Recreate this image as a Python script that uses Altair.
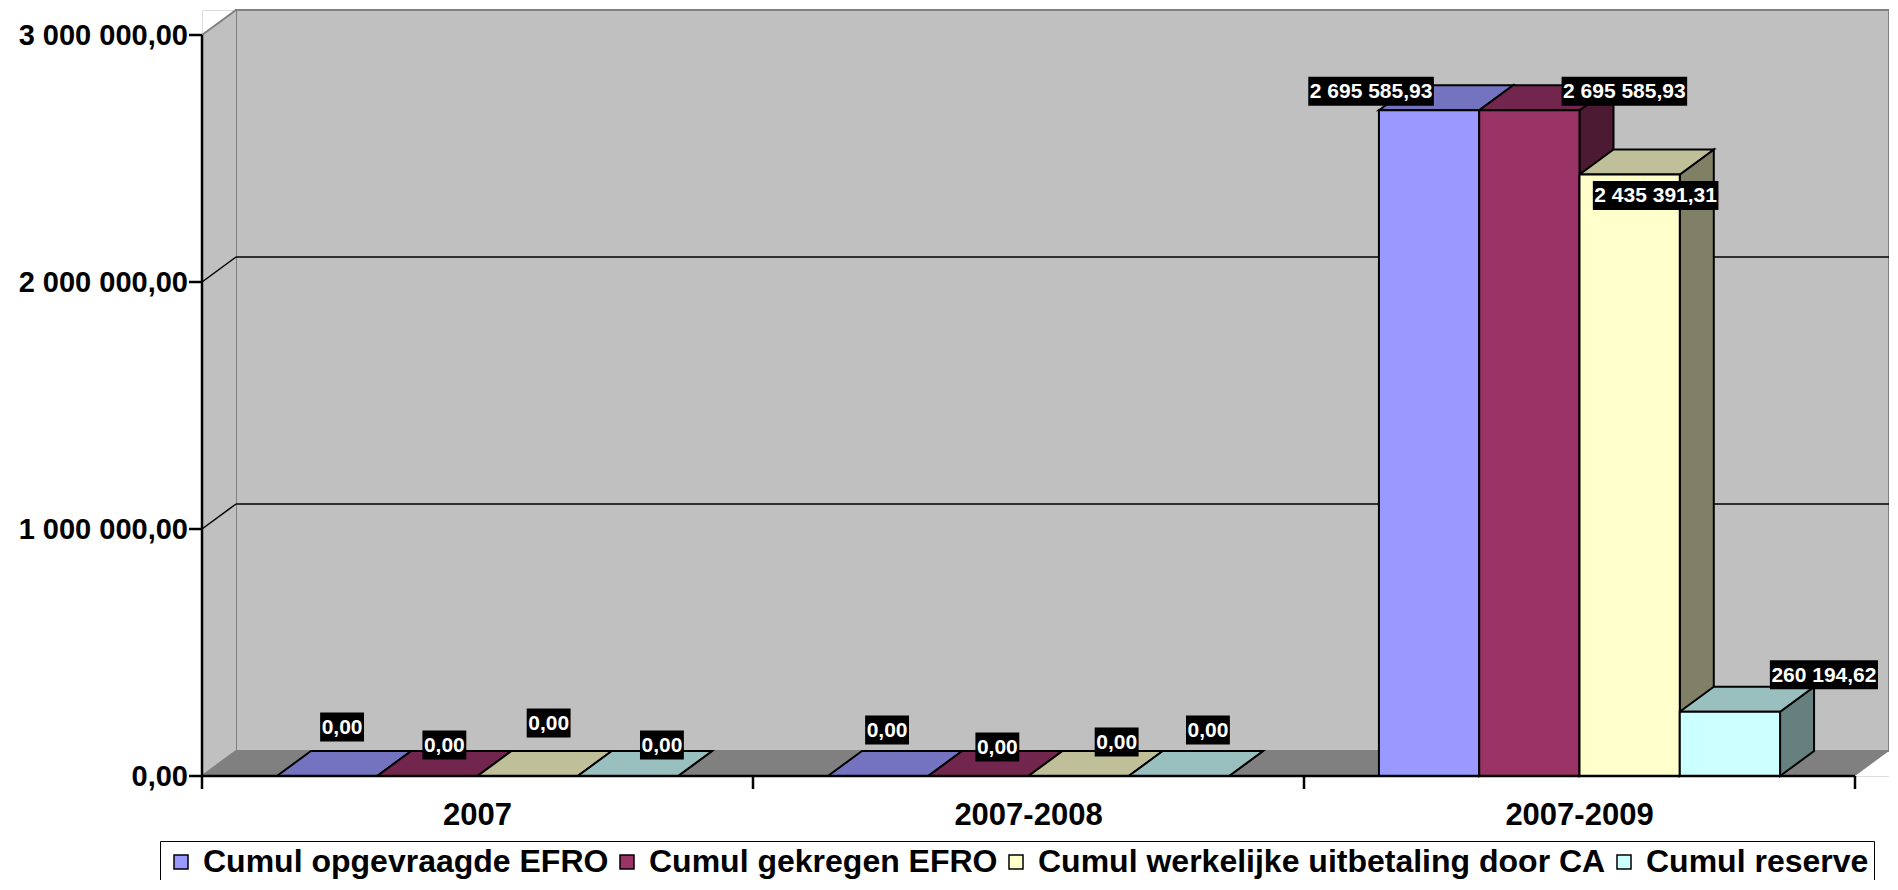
import altair as alt
import pandas as pd

# ---------------- data ----------------
CATEGORIES = ["2007", "2007-2008", "2007-2009"]
SERIES = [
    "Cumul opgevraagde EFRO",
    "Cumul gekregen EFRO",
    "Cumul werkelijke uitbetaling door CA",
    "Cumul reserve",
]
OPGEVRAAGD = [0.00, 0.00, 2695585.93]
GEKREGEN = [0.00, 0.00, 2695585.93]
WERKELIJK = [0.00, 0.00, 2435391.31]
RESERVE = [0.00, 0.00, 260194.62]
Y_TICKS = [0, 1000000, 2000000, 3000000]

# ---------------- style / layout ----------------
FRONT_COLORS = ["#9999FF", "#993366", "#FFFFCC", "#CCFFFF"]
TOP_COLORS = ["#7373BF", "#73264D", "#BFBF99", "#99BFBF"]
SIDE_COLORS = ["#4D4D80", "#4D1A33", "#808066", "#668080"]
WALL = "#C0C0C0"
WALL_EDGE = "#808080"
FLOOR = "#808080"
FONT = "Liberation Sans"

PX_CAT = 551                 # pixels per category
PX_PER_VAL = 247 / 1e6       # pixels per unit value
DEPTH_X_PX = 34
DEPTH_Y_PX = 25
TICK_PX = 13
DXU = DEPTH_X_PX / PX_CAT
DYV = DEPTH_Y_PX / PX_PER_VAL
Y_TOP = Y_TICKS[-1]
NCAT = len(CATEGORIES)
XMAX = NCAT + DXU
YMAX = Y_TOP + DYV
W = NCAT * PX_CAT + DEPTH_X_PX
H = round(Y_TOP * PX_PER_VAL) + DEPTH_Y_PX
BAR_W = 0.182
GROUP_OFF = (1 - len(SERIES) * BAR_W) / 2

# label nudges (px right, px up) relative to top-back centre of each bar
LABEL_NUDGE = [
    [(-2, 24), (0, 6), (4, 28), (17, 6)],
    [(-8, 21), (2, 4), (21, 9), (12, 21)],
    [(-75, -6), (78, -6), (9, -46), (77, 12)],
]
LABEL_FONT = 21
LABEL_H_PX = 29
CHAR_EM = {" ": 0.278, ",": 0.278}

XS = alt.Scale(domain=[0, XMAX], nice=False, zero=False)
YS = alt.Scale(domain=[0, YMAX], nice=False, zero=False)

series_values = [OPGEVRAAGD, GEKREGEN, WERKELIJK, RESERVE]


def fmt(v):
    return f"{v:,.2f}".replace(",", " ").replace(".", ",")


def text_w(s):
    return sum(CHAR_EM.get(ch, 0.556) for ch in s) * LABEL_FONT + 3


def X(f):
    return alt.X(f, scale=XS, axis=None)


def Y(f):
    return alt.Y(f, scale=YS, axis=None)


front, sides, tops, labels = [], [], [], []
for c in range(NCAT):
    for s, name in enumerate(SERIES):
        v = series_values[s][c]
        left = c + GROUP_OFF + s * BAR_W
        right = left + BAR_W
        bid = f"{c}-{s}"
        front.append(dict(series=name, xl=left, xr=right, y0=0.0, y1=v))
        sides.append(dict(id=bid, col=SIDE_COLORS[s], x=right, lo=0.0, hi=v))
        sides.append(dict(id=bid, col=SIDE_COLORS[s], x=right + DXU, lo=DYV, hi=v + DYV))
        tops.append(dict(id=bid, col=TOP_COLORS[s], y=v, xl=left, xr=right))
        tops.append(dict(id=bid, col=TOP_COLORS[s], y=v + DYV, xl=left + DXU, xr=right + DXU))
        nx, ny = LABEL_NUDGE[c][s]
        xc = (left + right) / 2 + DXU / 2 + nx / PX_CAT
        yc = v + DYV + ny / PX_PER_VAL
        txt = fmt(v)
        hw = text_w(txt) / 2 / PX_CAT
        hh = LABEL_H_PX / 2 / PX_PER_VAL
        labels.append(dict(txt=txt, xc=xc, yc=yc, xl=xc - hw, xr=xc + hw, yb=yc - hh, yt=yc + hh))

front = pd.DataFrame(front)
sides = pd.DataFrame(sides)
tops = pd.DataFrame(tops)
labels = pd.DataFrame(labels)

# ---------------- 3D frame ----------------
wall_df = pd.DataFrame([dict(x=DXU, x2=XMAX, y=DYV, y2=YMAX)])
wall = alt.Chart(wall_df).mark_rect(fill=WALL, stroke=WALL_EDGE, strokeWidth=2).encode(
    x=X("x:Q"), x2="x2:Q", y=Y("y:Q"), y2="y2:Q",
)

sidewall_df = pd.DataFrame([dict(x=0.0, lo=0.0, hi=float(Y_TOP)), dict(x=DXU, lo=DYV, hi=YMAX)])
sidewall = alt.Chart(sidewall_df).mark_area(fill=WALL).encode(
    x=X("x:Q"),
    y=alt.Y("lo:Q", scale=YS, axis=None, stack=None),
    y2="hi:Q",
)

floor_df = pd.DataFrame([dict(y=0.0, xl=0.0, xr=float(NCAT)), dict(y=DYV, xl=DXU, xr=XMAX)])
floor = alt.Chart(floor_df).mark_area(fill=FLOOR, orient="horizontal").encode(
    y=Y("y:Q"),
    x=alt.X("xl:Q", scale=XS, axis=None, stack=None),
    x2="xr:Q",
)

grid_rows = []
for v in Y_TICKS[1:-1]:
    grid_rows.append(dict(x=0.0, y=v, x2=DXU, y2=v + DYV))
    grid_rows.append(dict(x=DXU, y=v + DYV, x2=XMAX, y2=v + DYV))
grid = alt.Chart(pd.DataFrame(grid_rows)).mark_rule(color="black", strokeWidth=1.5).encode(
    x=X("x:Q"), x2="x2:Q", y=Y("y:Q"), y2="y2:Q",
)

edge_df = pd.DataFrame([
    dict(x=0.0, y=float(Y_TOP), x2=DXU, y2=YMAX),
    dict(x=0.0, y=0.0, x2=DXU, y2=DYV),
])
edges = alt.Chart(edge_df).mark_rule(color=WALL_EDGE, strokeWidth=2).encode(
    x=X("x:Q"), x2="x2:Q", y=Y("y:Q"), y2="y2:Q",
)

# axis lines and ticks (front edges of the 3D box)
axis_rows = [
    dict(x=0.0, y=0.0, x2=0.0, y2=float(Y_TOP)),
    dict(x=0.0, y=0.0, x2=float(NCAT), y2=0.0),
]
for v in Y_TICKS:
    axis_rows.append(dict(x=-TICK_PX / PX_CAT, y=float(v), x2=0.0, y2=float(v)))
for c in range(NCAT + 1):
    axis_rows.append(dict(x=float(c), y=0.0, x2=float(c), y2=-TICK_PX / PX_PER_VAL))
axis_lines = alt.Chart(pd.DataFrame(axis_rows)).mark_rule(color="black", strokeWidth=2.5).encode(
    x=X("x:Q"), x2="x2:Q", y=Y("y:Q"), y2="y2:Q",
)

ytick_df = pd.DataFrame(dict(v=[float(t) for t in Y_TICKS], lab=[fmt(t) for t in Y_TICKS], x0=[0.0] * len(Y_TICKS)))
ytick_txt = alt.Chart(ytick_df).mark_text(
    color="black", font=FONT, fontSize=29, fontWeight="bold",
    align="right", baseline="middle", dx=-14, dy=1,
).encode(x=X("x0:Q"), y=Y("v:Q"), text="lab:N")

# ---------------- bars ----------------
side_layer = alt.Chart(sides).mark_area(stroke="black", strokeWidth=2).encode(
    x=X("x:Q"),
    y=alt.Y("lo:Q", scale=YS, axis=None, stack=None),
    y2="hi:Q",
    fill=alt.Fill("col:N", scale=None),
    detail="id:N",
)

top_layer = alt.Chart(tops).mark_area(stroke="black", strokeWidth=2, orient="horizontal").encode(
    y=Y("y:Q"),
    x=alt.X("xl:Q", scale=XS, axis=None, stack=None),
    x2="xr:Q",
    fill=alt.Fill("col:N", scale=None),
    detail="id:N",
)

front_layer = alt.Chart(front).mark_rect(stroke="black", strokeWidth=2).encode(
    x=X("xl:Q"), x2="xr:Q",
    y=Y("y0:Q"), y2="y1:Q",
    color=alt.Color(
        "series:N",
        scale=alt.Scale(domain=SERIES, range=FRONT_COLORS),
        legend=alt.Legend(
            title=None, orient="none", legendX=-42, legendY=831, direction="horizontal",
            columns=4, symbolType="square", symbolSize=196, symbolStrokeColor="black",
            symbolStrokeWidth=1.5, symbolOpacity=1, labelFont=FONT, labelFontSize=32,
            labelFontWeight="bold", labelColor="black", labelOffset=6, labelLimit=0,
            columnPadding=2, strokeColor="black", fillColor="white", padding=5,
        ),
    ),
)

# ---------------- labels ----------------
label_box = alt.Chart(labels).mark_rect(fill="black").encode(
    x=X("xl:Q"), x2="xr:Q", y=Y("yb:Q"), y2="yt:Q",
)
label_txt = alt.Chart(labels).mark_text(
    color="white", font=FONT, fontSize=LABEL_FONT, fontWeight="bold",
    align="center", baseline="middle", dy=1,
).encode(x=X("xc:Q"), y=Y("yc:Q"), text="txt:N")

cat_df = pd.DataFrame(dict(cat=CATEGORIES, xc=[i + 0.5 for i in range(NCAT)], y0=[0.0] * NCAT))
cat_txt = alt.Chart(cat_df).mark_text(
    color="black", font=FONT, fontSize=31, fontWeight="bold",
    align="center", baseline="middle", dy=40,
).encode(x=X("xc:Q"), y=Y("y0:Q"), text="cat:N")

chart = alt.layer(
    wall, sidewall, floor, grid, edges,
    side_layer, top_layer, front_layer,
    axis_lines, ytick_txt,
    label_box, label_txt, cat_txt,
).properties(
    width=W, height=H,
    autosize=alt.AutoSizeParams(type="none"),
    padding={"left": 194, "top": 2, "right": 0, "bottom": 104},
).configure_view(stroke=None).configure(background="white")

chart.save("out.html", embed_options={"renderer": "svg", "actions": False})
